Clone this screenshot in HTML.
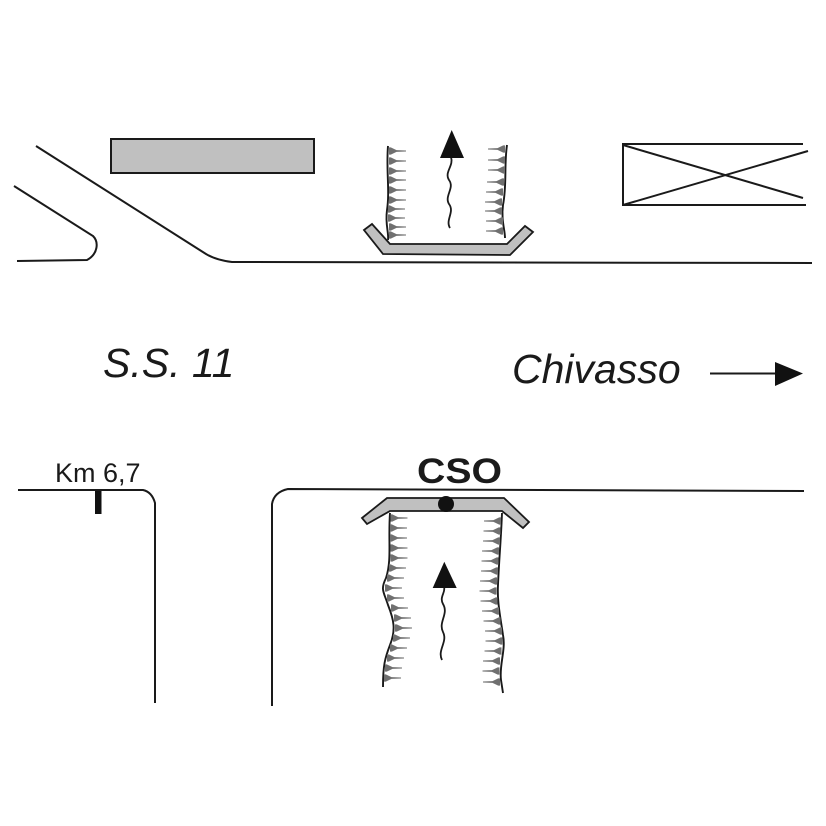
<!DOCTYPE html>
<html><head><meta charset="utf-8"><style>
html,body{margin:0;padding:0;background:#fff;}
svg{display:block;}
</style></head><body>
<svg width="826" height="826" viewBox="0 0 826 826" xmlns="http://www.w3.org/2000/svg">
<defs>
<path id="tr" d="M0,-3.6 L1.8,-3.6 L7.5,-0.9 L17,-0.55 L17,0.55 L7.5,0.9 L1.8,3.6 L0,3.6 Z" fill="#707070"/>
<path id="tl" d="M0,-3.6 L-1.8,-3.6 L-7.5,-0.9 L-17,-0.55 L-17,0.55 L-7.5,0.9 L-1.8,3.6 L0,3.6 Z" fill="#707070"/>
</defs>
<rect width="826" height="826" fill="#fff"/>
<g fill="none" stroke="#1a1a1a" stroke-width="2">
<path d="M36,146 L206,254 Q216,260 232,262 L812,263"/>
<path d="M14,186 L93,236 C99,242 98,254 87,260 L17,261"/>
<path d="M803,144 L623,144 L623,205 L806,205"/>
<path d="M623,145 L803,198"/>
<path d="M623,205 L808,151"/>
<path d="M18,490 L143,490 Q152,492 155,503 L155,703"/>
<path d="M272,706 L272,504 Q274,492 288,489 L804,491"/>
<path d="M388,146 C386,170 390,190 387,210 C385,225 389,232 388,240" stroke-width="1.9"/>
<path d="M507,145 C504,165 507,185 503,205 C501,220 505,230 505,238" stroke-width="1.9"/>
<path d="M390,513 C388,540 392,560 386,578 C380,590 384,592 388,605 C394,620 396,630 390,645 C385,658 383,665 383,687" stroke-width="1.9"/>
<path d="M502,513 C501,540 499,560 498,585 C497,600 500,615 503,635 C506,650 499,665 501,680 L503,693" stroke-width="1.9"/>
<path d="M450,228 C445,220 455,212 449,204 C444,196 455,188 449,180 C444,172 454,166 451,157" stroke-width="1.8"/>
<path d="M442,660 C437,650 448,642 443,632 C438,622 449,614 443,604 C439,597 446,592 444,587" stroke-width="1.8"/>
<path d="M710,373.5 L778,373.5"/>
</g>
<rect x="111" y="139" width="203" height="34" fill="#c0c0c0" stroke="#1a1a1a" stroke-width="2"/>
<polygon points="364,230 372,224 390,244 507,244 525,226 533,232 510,255 383,254" fill="#c0c0c0" stroke="#1a1a1a" stroke-width="1.8"/>
<polygon points="362,518 387,498 504,498 529,522 523,528 502,511 390,511 367,524" fill="#c0c0c0" stroke="#1a1a1a" stroke-width="1.8"/>
<circle cx="446" cy="504" r="8" fill="#111"/>
<polygon points="451.7,130 440,158 464,158" fill="#111"/>
<polygon points="444.3,561.7 432.7,588 456.7,588" fill="#111"/>
<polygon points="803,373.5 775,362 775,386" fill="#111"/>
<rect x="95" y="491" width="6.5" height="23" fill="#111"/>
<use href="#tr" x="389" y="151"/>
<use href="#tr" x="389" y="161"/>
<use href="#tr" x="389" y="171"/>
<use href="#tr" x="389" y="180"/>
<use href="#tr" x="389" y="190"/>
<use href="#tr" x="389" y="200"/>
<use href="#tr" x="388" y="209"/>
<use href="#tr" x="388" y="218"/>
<use href="#tr" x="389" y="227"/>
<use href="#tr" x="389" y="235"/>
<use href="#tl" x="505" y="149"/>
<use href="#tl" x="505" y="160"/>
<use href="#tl" x="505" y="170"/>
<use href="#tl" x="504" y="182"/>
<use href="#tl" x="503" y="192"/>
<use href="#tl" x="502" y="202"/>
<use href="#tl" x="502" y="211"/>
<use href="#tl" x="503" y="221"/>
<use href="#tl" x="503" y="231"/>
<use href="#tr" x="390.5" y="518"/>
<use href="#tr" x="390" y="528"/>
<use href="#tr" x="390" y="538"/>
<use href="#tr" x="390.5" y="548"/>
<use href="#tr" x="390.5" y="558"/>
<use href="#tr" x="389" y="568"/>
<use href="#tr" x="387" y="578"/>
<use href="#tr" x="385" y="588"/>
<use href="#tr" x="387" y="598"/>
<use href="#tr" x="391" y="608"/>
<use href="#tr" x="394" y="618"/>
<use href="#tr" x="395" y="628"/>
<use href="#tr" x="393" y="638"/>
<use href="#tr" x="390" y="648"/>
<use href="#tr" x="387" y="658"/>
<use href="#tr" x="385" y="668"/>
<use href="#tr" x="384" y="678"/>
<use href="#tl" x="501" y="521"/>
<use href="#tl" x="500.5" y="531"/>
<use href="#tl" x="500" y="541"/>
<use href="#tl" x="499" y="551"/>
<use href="#tl" x="498.5" y="561"/>
<use href="#tl" x="498" y="571"/>
<use href="#tl" x="497" y="581"/>
<use href="#tl" x="496.5" y="591"/>
<use href="#tl" x="497.5" y="601"/>
<use href="#tl" x="499" y="611"/>
<use href="#tl" x="500.5" y="621"/>
<use href="#tl" x="502" y="631"/>
<use href="#tl" x="502.5" y="641"/>
<use href="#tl" x="501.5" y="651"/>
<use href="#tl" x="500" y="661"/>
<use href="#tl" x="499.5" y="671"/>
<use href="#tl" x="500" y="682"/>
<g fill="#1a1a1a" font-family="'Liberation Sans', Arial, sans-serif">
<text x="103" y="377" font-size="41" font-style="italic">S.S. 11</text>
<text x="512" y="383" font-size="41" font-style="italic">Chivasso</text>
<text x="55" y="482" font-size="27">Km 6,7</text>
<text x="417" y="483" font-size="35" font-weight="bold" textLength="85" lengthAdjust="spacingAndGlyphs">CSO</text>
</g>
</svg>
</body></html>
